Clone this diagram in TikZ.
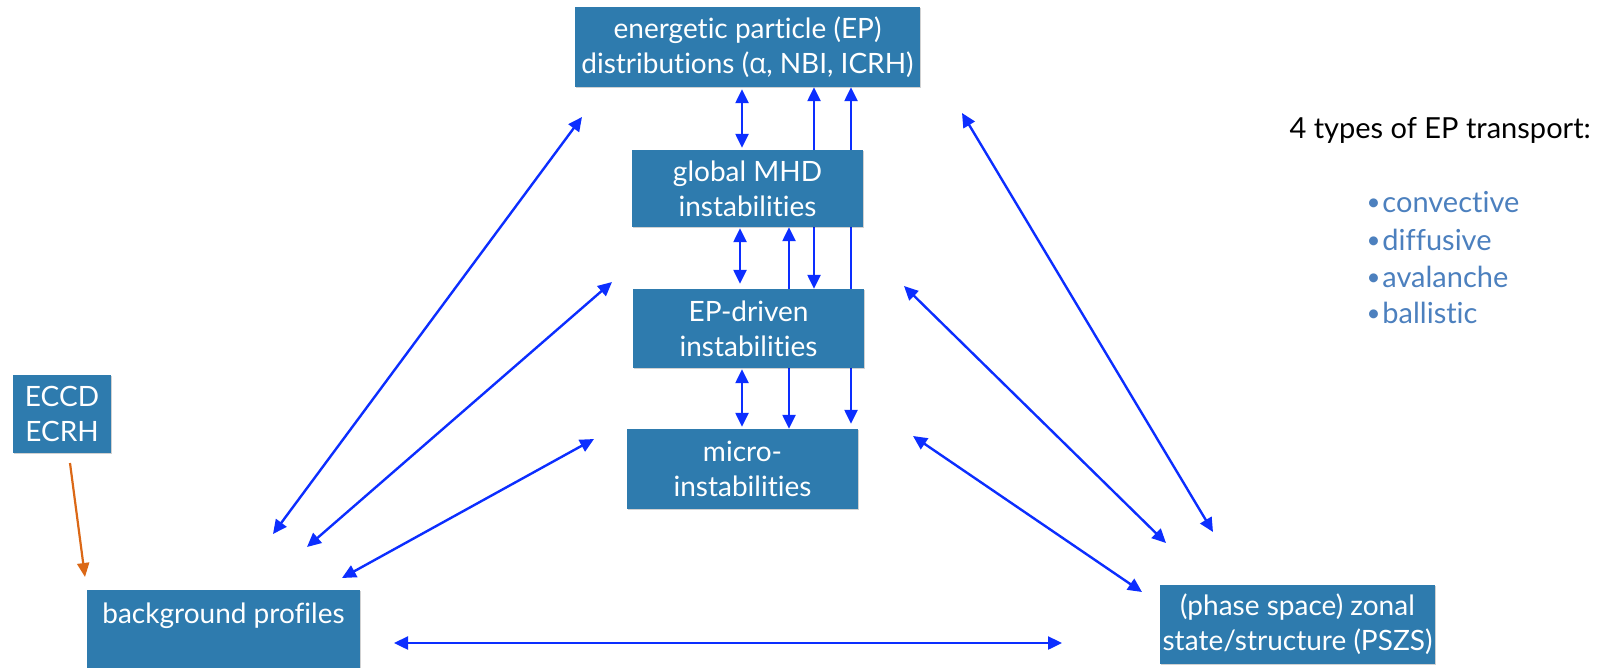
\documentclass[tikz,border=0pt]{standalone}
\usepackage{fontspec}
\setmainfont{Lato}[Ligatures=NoCommon]
\newfontfamily\greekfont{Open Sans}
\usetikzlibrary{arrows.meta,backgrounds,shadows}
\definecolor{boxblue}{RGB}{46,123,174}
\definecolor{linkblue}{RGB}{12,46,255}
\definecolor{heatorange}{RGB}{219,104,22}
\definecolor{listblue}{RGB}{76,128,190}
\newcommand{\itembullet}{\raisebox{2pt}{\fontsize{24}{30}\selectfont•}\hspace{2pt}}
\tikzset{
  box/.style={rectangle, fill=boxblue, text=white, align=center, inner sep=0pt,
    font=\fontsize{28}{35}\selectfont,
    drop shadow={shadow xshift=1.2pt, shadow yshift=-1.2pt, opacity=0.18, fill=black}},
  link/.style={draw=linkblue, line width=2.4pt,
    {Triangle[length=14pt,width=13pt]}-{Triangle[length=14pt,width=13pt]}},
  heat/.style={draw=heatorange, line width=2.2pt, -{Triangle[length=14pt,width=12pt]}},
  listitem/.style={anchor=base west, text=listblue, font=\fontsize{29}{30}\selectfont},
}
\begin{document}
\begin{tikzpicture}[x=1pt,y=-1pt]
\useasboundingbox (0,0) rectangle (1601,667);

% boxes
\node[box, minimum width=345pt, minimum height=80pt] (epd) at (747.5,47)
  {energetic particle (EP)\\distributions ({\greekfont α}, NBI, ICRH)};
\node[box, minimum width=231pt, minimum height=77pt] (mhd) at (747.5,188.5)
  {global MHD\\instabilities};
\node[box, minimum width=231pt, minimum height=79pt] (epdr) at (748.5,328.5)
  {EP-driven\\instabilities};
\node[box, minimum width=231pt, minimum height=80pt] (micro) at (742.5,469)
  {micro-\\instabilities};
\node[box, minimum width=98pt, minimum height=78pt] (eccd) at (62,414)
  {ECCD\\ECRH};
\node[box, minimum width=273pt, minimum height=80pt] (bg) at (223.5,630)
  {background profiles\\[-12pt]\strut};
\node[box, minimum width=275pt, minimum height=79pt] (pszs) at (1297.5,624.5)
  {(phase space) zonal\\state/structure (PSZS)};

% legend
\node[anchor=base west, font=\fontsize{29}{30}\selectfont] (head) at (1286,138)
  {4 types of EP transport:};
\node[listitem] (l1) at (1363,212) {\itembullet convective};
\node[listitem] (l2) at (1363,250) {\itembullet diffusive};
\node[listitem] (l3) at (1363,287) {\itembullet avalanche};
\node[listitem] (l4) at (1363,323) {\itembullet ballistic};

% column positions of the vertical links
\coordinate (cA) at (742,0);
\coordinate (cB) at (740,0);
\coordinate (cC) at (789,0);
\coordinate (cD) at (814,0);
\coordinate (cE) at (851,0);

% free ends of the diagonal links
\coordinate (p1a) at (582,117);  \coordinate (p1b) at (273,534);
\coordinate (p2a) at (612,282);  \coordinate (p2b) at (307,547);
\coordinate (p3a) at (594,439);  \coordinate (p3b) at (342,578);
\coordinate (q1a) at (962,113);  \coordinate (q1b) at (1213,532);
\coordinate (q2a) at (904,286);  \coordinate (q2b) at (1166,543);
\coordinate (q3a) at (913,436);  \coordinate (q3b) at (1142,592);
\coordinate (h1) at (394,643);   \coordinate (h2) at (1062,643);
\coordinate (o1) at (70,463);    \coordinate (o2) at (85,577);

\begin{scope}[on background layer]
  % vertical links between the stacked boxes
  \draw[link, shorten <=2pt, shorten >=2pt] (epd.south -| cA) -- (mhd.north -| cA);
  \draw[link] (epd.south -| cD) -- (epdr.north -| cD);
  \draw[link, shorten >=5pt] (epd.south -| cE) -- (micro.north -| cE);
  \draw[link, shorten <=1pt, shorten >=5pt] (mhd.south -| cB) -- (epdr.north -| cB);
  \draw[link] (mhd.south -| cC) -- (micro.north -| cC);
  \draw[link, shorten <=1pt, shorten >=2pt] (epdr.south -| cA) -- (micro.north -| cA);
\end{scope}

% diagonal and horizontal links
\draw[link] (p1a) -- (p1b);
\draw[link] (p2a) -- (p2b);
\draw[link] (p3a) -- (p3b);
\draw[link] (q1a) -- (q1b);
\draw[link] (q2a) -- (q2b);
\draw[link] (q3a) -- (q3b);
\draw[link] (h1) -- (h2);

% heating input
\draw[heat] (o1) -- (o2);
\end{tikzpicture}
\end{document}
